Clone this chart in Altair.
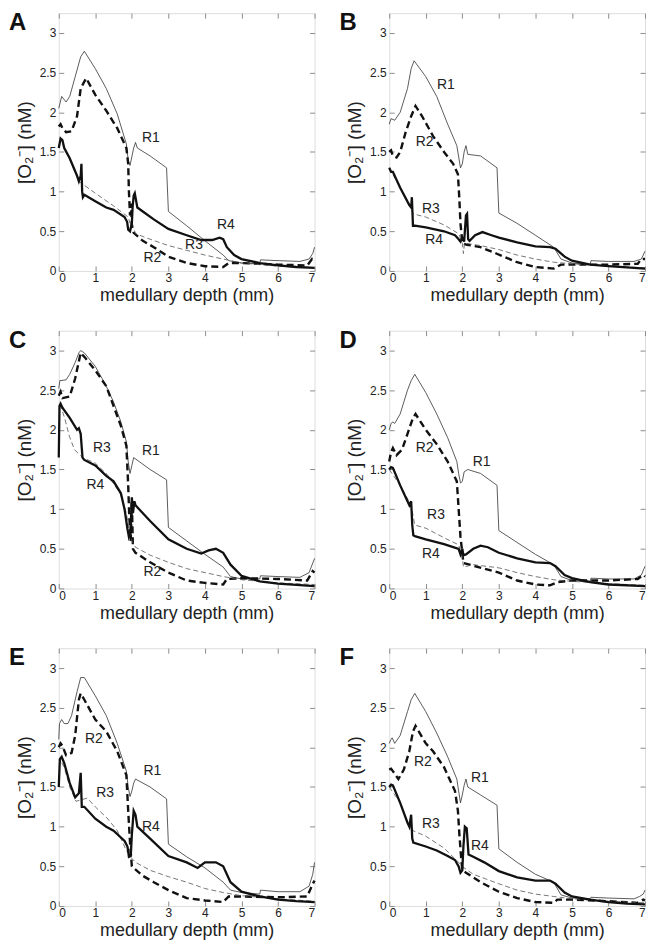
import altair as alt
import pandas as pd

X_TICKS = [0, 1, 2, 3, 4, 5, 6, 7]
Y_TICKS = [0, 0.5, 1, 1.5, 2, 2.5, 3]
SERIES = ["R1", "R2", "R3", "R4"]

# ---------------- Panel A ----------------
A_R1 = [(0, 2.05), (0.08, 2.2), (0.2, 2.13), (0.3, 2.2), (0.45, 2.45), (0.6, 2.7), (0.7, 2.77), (1.0, 2.55),
        (1.3, 2.3), (1.6, 1.98), (1.85, 1.6), (1.9, 1.4), (1.95, 1.33), (2.05, 1.55), (2.1, 1.62), (2.15, 1.55),
        (2.5, 1.45), (2.95, 1.3), (3.0, 0.75), (3.5, 0.57), (4.0, 0.38), (4.5, 0.2), (4.65, 0.13), (5.0, 0.1),
        (5.5, 0.09), (5.52, 0.14), (6.0, 0.13), (6.6, 0.12), (6.85, 0.15), (6.95, 0.22), (7.0, 0.3)]
A_R2 = [(0, 1.82), (0.05, 1.85), (0.1, 1.8), (0.2, 1.75), (0.35, 1.76), (0.5, 1.95), (0.6, 2.3), (0.75, 2.43),
        (1.0, 2.22), (1.3, 2.02), (1.6, 1.8), (1.85, 1.55), (1.9, 1.35), (1.92, 1.0), (1.95, 0.7), (1.98, 0.85),
        (2.0, 0.55), (2.05, 0.48), (2.3, 0.38), (2.6, 0.3), (3.0, 0.18), (3.5, 0.1), (4.0, 0.06), (4.5, 0.05),
        (4.65, 0.1), (5.0, 0.1), (6.0, 0.08), (6.8, 0.07), (6.93, 0.15), (7.0, 0.12)]
A_R3 = [(0, 1.55), (0.05, 1.67), (0.15, 1.55), (0.5, 1.2), (0.55, 1.13), (1.0, 0.98), (1.5, 0.82), (1.9, 0.68),
        (1.95, 0.6), (2.0, 0.62), (2.1, 0.47), (2.5, 0.4), (3.0, 0.32), (3.5, 0.26), (4.0, 0.2), (4.5, 0.15),
        (5.0, 0.1), (6.0, 0.06), (7.0, 0.04)]
A_R4 = [(0, 1.55), (0.05, 1.67), (0.1, 1.65), (0.15, 1.55), (0.3, 1.42), (0.5, 1.2), (0.55, 1.13), (0.6, 1.2),
        (0.62, 1.35), (0.64, 1.0), (0.66, 0.93), (0.7, 0.96), (1.0, 0.88), (1.3, 0.8), (1.5, 0.77), (1.8, 0.68),
        (1.87, 0.62), (1.9, 0.52), (1.95, 0.5), (2.0, 0.6), (2.02, 0.8), (2.05, 0.95), (2.08, 0.98), (2.15, 0.8),
        (2.3, 0.75), (2.6, 0.65), (3.0, 0.53), (3.5, 0.45), (3.9, 0.39), (4.2, 0.39), (4.4, 0.42), (4.5, 0.4),
        (4.6, 0.3), (4.8, 0.2), (5.0, 0.15), (5.5, 0.1), (6.0, 0.07), (6.5, 0.05), (7.0, 0.04)]
A_LABELS = [("R1", 2.52, 1.68), ("R2", 2.56, 0.16), ("R3", 3.7, 0.33), ("R4", 4.57, 0.58)]

# ---------------- Panel B ----------------
B_R1 = [(0, 1.85), (0.05, 1.92), (0.15, 1.9), (0.3, 2.0), (0.5, 2.3), (0.6, 2.55), (0.68, 2.65), (1.0, 2.45),
        (1.3, 2.2), (1.6, 1.85), (1.85, 1.58), (1.95, 1.3), (2.0, 1.35), (2.05, 1.5), (2.1, 1.58), (2.15, 1.47),
        (2.5, 1.45), (2.95, 1.3), (3.0, 0.73), (3.5, 0.6), (4.0, 0.45), (4.5, 0.3), (4.7, 0.15), (5.0, 0.1),
        (5.5, 0.08), (5.52, 0.13), (6.0, 0.12), (6.7, 0.12), (6.9, 0.15), (7.0, 0.25)]
B_R2 = [(0, 1.5), (0.05, 1.52), (0.1, 1.45), (0.2, 1.43), (0.3, 1.5), (0.45, 1.75), (0.6, 1.95), (0.72, 2.08),
        (0.9, 1.95), (1.2, 1.7), (1.5, 1.5), (1.75, 1.35), (1.88, 1.22), (1.92, 0.9), (1.95, 0.6), (1.98, 0.45),
        (2.0, 0.35), (2.13, 0.33), (2.5, 0.3), (2.93, 0.22), (3.5, 0.11), (4.0, 0.05), (4.5, 0.03), (4.7, 0.08),
        (5.0, 0.08), (6.0, 0.08), (6.8, 0.09), (6.9, 0.15), (7.0, 0.15)]
B_R3 = [(0, 1.3), (0.3, 1.05), (0.6, 0.8), (0.65, 0.72), (1.0, 0.68), (1.5, 0.58), (1.9, 0.47), (2.0, 0.35),
        (2.03, 0.22), (2.06, 0.35), (2.5, 0.32), (3.0, 0.27), (3.5, 0.2), (4.0, 0.15), (4.5, 0.11), (5.0, 0.09),
        (6.0, 0.06), (7.0, 0.04)]
B_R4 = [(0, 1.3), (0.05, 1.25), (0.1, 1.25), (0.3, 1.05), (0.55, 0.83), (0.6, 0.8), (0.62, 0.93), (0.65, 0.57),
        (0.7, 0.57), (1.0, 0.55), (1.5, 0.5), (1.8, 0.45), (1.9, 0.4), (1.95, 0.37), (2.0, 0.42), (2.05, 0.37),
        (2.1, 0.7), (2.13, 0.72), (2.16, 0.4), (2.2, 0.38), (2.35, 0.45), (2.55, 0.49), (2.8, 0.45), (3.0, 0.42),
        (3.5, 0.36), (4.0, 0.31), (4.4, 0.3), (4.55, 0.28), (4.8, 0.18), (5.0, 0.13), (5.5, 0.08), (6.0, 0.06),
        (7.0, 0.03)]
B_LABELS = [("R1", 1.55, 2.35), ("R2", 0.97, 1.62), ("R3", 1.14, 0.78), ("R4", 1.23, 0.39)]

# ---------------- Panel C ----------------
C_R1 = [(0, 2.52), (0.03, 2.62), (0.2, 2.63), (0.3, 2.7), (0.45, 2.85), (0.55, 2.97), (0.6, 3.0), (0.7, 2.97),
        (1.0, 2.8), (1.3, 2.55), (1.5, 2.35), (1.7, 2.1), (1.85, 1.85), (1.9, 1.6), (1.95, 1.45), (2.0, 1.55),
        (2.05, 1.65), (2.5, 1.5), (2.95, 1.37), (3.0, 0.77), (3.5, 0.6), (4.0, 0.43), (4.5, 0.27), (4.7, 0.15),
        (5.0, 0.12), (5.5, 0.12), (5.52, 0.16), (6.0, 0.15), (6.6, 0.14), (6.85, 0.2), (7.0, 0.38)]
C_R2 = [(0, 2.43), (0.05, 2.48), (0.1, 2.4), (0.3, 2.42), (0.45, 2.65), (0.6, 2.97), (0.7, 2.92), (1.0, 2.75),
        (1.3, 2.55), (1.5, 2.3), (1.7, 2.05), (1.85, 1.8), (1.9, 1.3), (1.93, 0.9), (1.97, 0.6), (2.0, 1.1),
        (2.03, 0.5), (2.1, 0.45), (2.5, 0.33), (3.0, 0.2), (3.5, 0.1), (4.0, 0.07), (4.5, 0.05), (4.6, 0.12),
        (5.0, 0.13), (6.0, 0.12), (6.8, 0.1), (6.95, 0.22), (7.0, 0.2)]
C_R3 = [(0, 2.3), (0.05, 2.3), (0.16, 2.15), (0.29, 1.92), (0.43, 1.75), (0.65, 1.65), (1.0, 1.58), (1.32, 1.44),
        (1.68, 1.2), (1.85, 0.95), (1.92, 0.75), (2.0, 0.6), (2.1, 0.52), (2.5, 0.42), (3.0, 0.33), (3.5, 0.25),
        (4.0, 0.2), (4.5, 0.15), (5.0, 0.11), (6.0, 0.07), (7.0, 0.05)]
C_R4 = [(0, 1.65), (0.02, 2.3), (0.05, 2.33), (0.1, 2.28), (0.3, 2.15), (0.5, 2.0), (0.55, 2.02), (0.6, 1.95),
        (0.65, 1.65), (0.7, 1.62), (1.0, 1.55), (1.3, 1.42), (1.5, 1.35), (1.7, 1.2), (1.8, 1.0), (1.88, 0.75),
        (1.92, 0.65), (1.96, 0.7), (2.0, 1.15), (2.03, 0.95), (2.07, 1.1), (2.1, 1.05), (2.2, 1.0), (2.5, 0.85),
        (3.0, 0.62), (3.5, 0.5), (3.9, 0.44), (4.1, 0.48), (4.3, 0.5), (4.5, 0.45), (4.7, 0.3), (5.0, 0.16),
        (5.5, 0.09), (6.0, 0.06), (7.0, 0.03)]
C_LABELS = [("R1", 2.52, 1.73), ("R2", 2.56, 0.21), ("R3", 1.18, 1.77), ("R4", 1.0, 1.3)]

# ---------------- Panel D ----------------
D_R1 = [(0, 2.0), (0.05, 2.08), (0.1, 2.1), (0.15, 2.08), (0.3, 2.2), (0.5, 2.5), (0.6, 2.62), (0.7, 2.7),
        (1.0, 2.47), (1.3, 2.2), (1.6, 1.9), (1.85, 1.6), (1.9, 1.45), (1.95, 1.33), (2.0, 1.35), (2.05, 1.47),
        (2.15, 1.5), (2.5, 1.45), (2.95, 1.3), (3.0, 0.73), (3.5, 0.58), (4.0, 0.43), (4.5, 0.3), (4.7, 0.15),
        (5.0, 0.1), (5.5, 0.09), (5.52, 0.13), (6.0, 0.12), (6.7, 0.12), (6.9, 0.17), (7.0, 0.28)]
D_R2 = [(0, 1.6), (0.05, 1.72), (0.1, 1.77), (0.2, 1.68), (0.35, 1.75), (0.5, 1.95), (0.65, 2.15), (0.72, 2.2),
        (1.0, 2.0), (1.3, 1.82), (1.6, 1.6), (1.85, 1.35), (1.9, 1.0), (1.95, 0.65), (2.0, 0.45), (2.03, 0.32),
        (2.2, 0.3), (2.6, 0.25), (3.0, 0.2), (3.5, 0.1), (4.0, 0.05), (4.4, 0.04), (4.6, 0.08), (5.0, 0.1),
        (6.0, 0.1), (6.8, 0.12), (6.95, 0.17), (7.0, 0.15)]
D_R3 = [(0, 1.5), (0.3, 1.3), (0.6, 1.05), (0.7, 0.8), (1.0, 0.76), (1.5, 0.64), (1.9, 0.55), (2.0, 0.4),
        (2.03, 0.27), (2.3, 0.3), (3.0, 0.26), (3.5, 0.2), (4.0, 0.15), (4.5, 0.11), (5.0, 0.09), (6.0, 0.06),
        (7.0, 0.04)]
D_R4 = [(0, 1.5), (0.05, 1.53), (0.1, 1.52), (0.3, 1.3), (0.55, 1.05), (0.6, 1.1), (0.63, 0.8), (0.66, 0.67),
        (0.7, 0.66), (1.0, 0.62), (1.5, 0.56), (1.9, 0.5), (1.95, 0.43), (2.0, 0.5), (2.03, 0.42), (2.1, 0.43),
        (2.3, 0.5), (2.5, 0.54), (2.7, 0.52), (3.0, 0.45), (3.5, 0.38), (4.0, 0.33), (4.4, 0.32), (4.55, 0.28),
        (4.8, 0.17), (5.0, 0.13), (5.5, 0.08), (6.0, 0.05), (7.0, 0.03)]
D_LABELS = [("R1", 2.53, 1.6), ("R2", 0.97, 1.77), ("R3", 1.28, 0.92), ("R4", 1.14, 0.44)]

# ---------------- Panel E ----------------
E_R1 = [(0, 2.1), (0.02, 2.3), (0.08, 2.35), (0.15, 2.3), (0.25, 2.3), (0.35, 2.4), (0.5, 2.7), (0.6, 2.88),
        (0.7, 2.88), (1.0, 2.65), (1.3, 2.4), (1.6, 2.05), (1.85, 1.7), (1.9, 1.5), (1.95, 1.38), (2.0, 1.45),
        (2.05, 1.55), (2.1, 1.6), (2.5, 1.5), (2.95, 1.35), (3.0, 0.78), (3.5, 0.62), (4.0, 0.48), (4.5, 0.3),
        (4.7, 0.2), (5.0, 0.17), (5.5, 0.15), (5.52, 0.2), (6.0, 0.18), (6.6, 0.18), (6.85, 0.25), (6.95, 0.4),
        (7.0, 0.55)]
E_R2 = [(0, 2.0), (0.05, 2.05), (0.1, 2.02), (0.2, 1.9), (0.35, 1.93), (0.45, 2.15), (0.55, 2.6), (0.6, 2.68),
        (0.7, 2.6), (1.0, 2.35), (1.3, 2.2), (1.6, 1.95), (1.85, 1.65), (1.9, 1.2), (1.95, 0.8), (2.0, 0.5),
        (2.05, 0.48), (2.3, 0.38), (2.6, 0.3), (3.0, 0.2), (3.5, 0.1), (4.0, 0.07), (4.5, 0.05), (4.65, 0.12),
        (5.0, 0.12), (6.0, 0.11), (6.8, 0.12), (6.95, 0.28), (7.0, 0.32)]
E_R3 = [(0, 1.5), (0.03, 1.85), (0.15, 1.75), (0.3, 1.5), (0.47, 1.32), (0.78, 1.36), (1.0, 1.25), (1.32, 1.11),
        (1.6, 0.95), (1.85, 0.7), (2.0, 0.6), (2.1, 0.55), (2.5, 0.45), (3.0, 0.37), (3.5, 0.3), (4.0, 0.22),
        (4.5, 0.17), (5.0, 0.13), (6.0, 0.09), (7.0, 0.06)]
E_R4 = [(0, 1.5), (0.03, 1.85), (0.08, 1.88), (0.15, 1.8), (0.3, 1.55), (0.45, 1.37), (0.55, 1.42), (0.6, 1.68),
        (0.63, 1.25), (0.7, 1.25), (1.0, 1.1), (1.3, 1.0), (1.5, 0.95), (1.8, 0.82), (1.88, 0.75), (1.92, 0.62),
        (1.97, 0.63), (2.0, 0.9), (2.05, 1.2), (2.1, 1.15), (2.15, 1.0), (2.5, 0.85), (3.0, 0.63), (3.5, 0.55),
        (3.8, 0.48), (4.0, 0.55), (4.3, 0.55), (4.5, 0.5), (4.7, 0.3), (5.0, 0.18), (5.5, 0.12), (6.0, 0.08),
        (6.5, 0.06), (7.0, 0.05)]
E_LABELS = [("R1", 2.56, 1.7), ("R2", 0.96, 2.11), ("R3", 1.27, 1.43), ("R4", 2.52, 0.99)]

# ---------------- Panel F ----------------
F_R1 = [(0, 2.05), (0.05, 2.1), (0.08, 2.12), (0.15, 2.05), (0.3, 2.15), (0.5, 2.45), (0.6, 2.6), (0.7, 2.68),
        (1.0, 2.45), (1.3, 2.18), (1.6, 1.88), (1.85, 1.6), (1.9, 1.45), (1.95, 1.3), (2.0, 1.4), (2.05, 1.52),
        (2.1, 1.6), (2.15, 1.5), (2.5, 1.4), (2.95, 1.27), (3.0, 0.72), (3.5, 0.55), (4.0, 0.4), (4.5, 0.3),
        (4.7, 0.14), (5.0, 0.1), (5.5, 0.09), (5.52, 0.11), (6.0, 0.1), (6.7, 0.09), (6.85, 0.12), (6.95, 0.15),
        (7.0, 0.2)]
F_R2 = [(0, 1.72), (0.05, 1.73), (0.1, 1.7), (0.25, 1.6), (0.4, 1.72), (0.55, 1.95), (0.65, 2.2), (0.72, 2.27),
        (1.0, 2.05), (1.2, 1.95), (1.5, 1.75), (1.8, 1.45), (1.88, 1.2), (1.92, 0.9), (1.97, 0.6), (2.0, 0.45),
        (2.1, 0.42), (2.5, 0.3), (3.0, 0.18), (3.5, 0.1), (4.0, 0.05), (4.5, 0.04), (4.6, 0.08), (5.0, 0.08),
        (6.0, 0.06), (6.8, 0.04), (6.95, 0.08), (7.0, 0.07)]
F_R3 = [(0, 1.5), (0.3, 1.3), (0.55, 1.0), (0.65, 0.95), (1.0, 0.88), (1.5, 0.73), (1.9, 0.55), (2.0, 0.5),
        (2.05, 0.48), (2.3, 0.4), (3.0, 0.28), (3.5, 0.2), (4.0, 0.15), (4.5, 0.12), (5.0, 0.09), (6.0, 0.06),
        (7.0, 0.04)]
F_R4 = [(0, 1.5), (0.05, 1.53), (0.1, 1.52), (0.3, 1.3), (0.5, 1.05), (0.55, 1.0), (0.6, 1.15), (0.63, 0.85),
        (0.66, 0.8), (1.0, 0.75), (1.3, 0.7), (1.6, 0.63), (1.8, 0.58), (1.9, 0.5), (1.95, 0.42), (2.0, 0.45),
        (2.03, 0.75), (2.07, 1.0), (2.12, 0.98), (2.17, 0.65), (2.3, 0.62), (2.6, 0.55), (3.0, 0.44), (3.5, 0.36),
        (4.0, 0.32), (4.4, 0.32), (4.55, 0.28), (4.8, 0.17), (5.0, 0.12), (5.5, 0.08), (6.0, 0.05), (6.5, 0.03),
        (7.0, 0.02)]
F_LABELS = [("R1", 2.48, 1.61), ("R2", 0.92, 1.82), ("R3", 1.14, 1.03), ("R4", 2.48, 0.76)]

PANELS = [
    ("A", {"R1": A_R1, "R2": A_R2, "R3": A_R3, "R4": A_R4}, A_LABELS),
    ("B", {"R1": B_R1, "R2": B_R2, "R3": B_R3, "R4": B_R4}, B_LABELS),
    ("C", {"R1": C_R1, "R2": C_R2, "R3": C_R3, "R4": C_R4}, C_LABELS),
    ("D", {"R1": D_R1, "R2": D_R2, "R3": D_R3, "R4": D_R4}, D_LABELS),
    ("E", {"R1": E_R1, "R2": E_R2, "R3": E_R3, "R4": E_R4}, E_LABELS),
    ("F", {"R1": F_R1, "R2": F_R2, "R3": F_R3, "R4": F_R4}, F_LABELS),
]

STYLE = {
    "R1": dict(color="#333333", strokeWidth=0.8),
    "R2": dict(color="#111111", strokeWidth=2.4, strokeDash=[7, 4]),
    "R3": dict(color="#555555", strokeWidth=0.8, strokeDash=[5, 3]),
    "R4": dict(color="#111111", strokeWidth=2.3),
}

FONT = "Liberation Sans"
W, H = 257, 259
FRAME = "#8c8c8c"


def make_panel(letter, series, labels):
    rows = []
    for s in SERIES:
        for i, (x, y) in enumerate(series[s]):
            rows.append({"x": x, "y": y, "s": s, "i": i})
    df = pd.DataFrame(rows)
    xs = alt.Scale(domain=[0, 7], nice=False, zero=False)
    ys = alt.Scale(domain=[0, 3.25], nice=False, zero=False)

    x_bottom = alt.Axis(values=X_TICKS, format="d", orient="bottom", offset=-5, tickSize=5,
                        domain=False, grid=False, labelPadding=2, labelFontSize=12, labelFont=FONT,
                        labelColor="#222222", tickColor=FRAME, title="medullary depth (mm)",
                        titleFont=FONT, titleFontSize=18, titleFontWeight="normal", titleColor="#222222",
                        titlePadding=3)
    y_left = alt.Axis(values=Y_TICKS, format="~g", orient="left", offset=-5, tickSize=5, domain=False,
                      grid=False, labelPadding=3, labelFontSize=12, labelFont=FONT, labelColor="#222222",
                      tickColor=FRAME, title="[O₂⁻] (nM)", titleFont=FONT, titleFontSize=19,
                      titleFontWeight="normal", titleColor="#222222", titlePadding=5)
    x_top = alt.Axis(values=X_TICKS, orient="top", offset=-5, tickSize=5, domain=False, grid=False,
                     labels=False, title=None, tickColor=FRAME)
    y_right = alt.Axis(values=Y_TICKS, orient="right", offset=-5, tickSize=5, domain=False, grid=False,
                       labels=False, title=None, tickColor=FRAME)

    layers = []
    for k, s in enumerate(SERIES):
        ax_x = x_bottom if k == 0 else None
        ax_y = y_left if k == 0 else None
        layers.append(
            alt.Chart(df).transform_filter(alt.datum.s == s)
            .mark_line(**STYLE[s])
            .encode(x=alt.X("x:Q", scale=xs, axis=ax_x),
                    y=alt.Y("y:Q", scale=ys, axis=ax_y),
                    order="i:Q")
        )
    # top/right tick marks (MATLAB box)
    layers.append(
        alt.Chart(df).mark_line(opacity=0)
        .encode(x=alt.X("x:Q", scale=xs, axis=x_top), y=alt.Y("y:Q", scale=ys, axis=y_right))
    )
    lab_df = pd.DataFrame(labels, columns=["t", "x", "y"])
    layers.append(
        alt.Chart(lab_df).mark_text(font=FONT, fontSize=14, color="#222222", align="center", baseline="middle")
        .encode(x=alt.X("x:Q", scale=xs, axis=None), y=alt.Y("y:Q", scale=ys, axis=None), text="t:N")
    )
    layers.append(
        alt.Chart(pd.DataFrame({"t": [letter]})).mark_text(font=FONT, fontSize=24, fontWeight="bold",
                                                          color="#111111", align="left", baseline="top")
        .encode(x=alt.value(-50), y=alt.value(-2), text="t:N")
    )
    return alt.layer(*layers).resolve_axis(x="independent", y="independent").properties(width=W, height=H)


panels = [make_panel(*p) for p in PANELS]
chart = alt.concat(*panels, columns=2, spacing={"row": 60, "column": 75}, bounds="flush").properties(
    padding=0
).configure_view(stroke=FRAME, strokeWidth=1).configure(background="white")

chart.save("out.html", embed_options={"renderer": "svg", "actions": False})
